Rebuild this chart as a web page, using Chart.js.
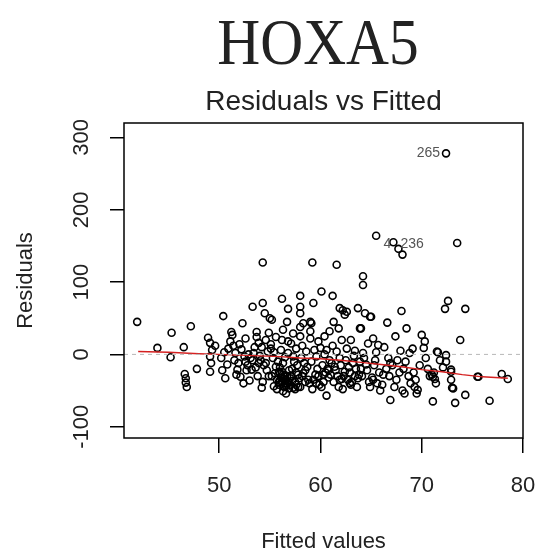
<!DOCTYPE html>
<html>
<head>
<meta charset="utf-8">
<title>HOXA5</title>
<script src="https://cdn.jsdelivr.net/npm/chart.js@4.4.1/dist/chart.umd.min.js"></script>
<style>
  html, body { margin: 0; padding: 0; background: #fff; }
  #wrap { width: 537px; height: 552px; }
</style>
</head>
<body>
<div id="wrap"><canvas id="residPlot" width="537" height="552"></canvas></div>
<script>
'use strict';

// fitted values and residuals, one entry per sample
const fitted = [
  41.9, 43.9,
  45.3, 45.2, 46.5, 46.6, 46.7, 46.7, 46.8, 47.2, 47.8,
  48.9, 49.1, 49.3, 49.1, 49.2, 49.1, 49.6,
  50.4, 50.6, 50.2, 50.5, 50.8, 50.9, 50.3,
  51.2, 51.3, 51.8, 51.5, 51.1, 51.6, 51.9, 51.4, 51.7,
  52.3, 52.1, 52.5, 52.2, 52.8, 52.6, 52.4, 52.9, 52.7, 52.0,
  53.3, 53.2, 53.7, 53.7, 53.5, 53.1, 53.9, 53.4, 53.8, 53.6, 53.0, 53.9,
  54.3, 54.5, 54.2, 54.3, 54.3, 54.6, 54.8, 54.1, 54.7, 54.9, 54.4, 54.2, 54.9,
  55.0, 55.2, 55.3, 55.5, 55.7, 55.1, 55.6, 55.9, 55.4, 55.8, 55.2, 55.6, 55.9,
  56.2, 56.7, 56.3, 56.2, 56.8, 56.8, 56.3, 56.6, 56.0, 56.1, 56.2, 56.4, 56.5,
  56.6, 56.7, 56.9, 56.0, 56.3, 56.5, 56.8, 56.1, 56.4, 56.9, 56.7, 56.2,
  57.3, 57.1, 57.5, 57.8, 57.2, 57.6, 57.4, 57.9, 57.0, 57.7, 57.3, 57.6, 57.1, 57.8, 57.5,
  58.0, 58.0, 58.0, 58.0, 58.3, 58.0, 58.0, 58.2, 58.5, 58.8, 58.4, 58.1, 58.6, 58.9, 58.3, 58.7, 58.2,
  59.3, 59.0, 59.1, 59.0, 59.2, 59.0, 59.8, 59.5, 59.3, 59.7, 59.1, 59.6, 59.9, 59.4, 59.8, 59.2,
  60.1, 60.0, 60.6, 60.4, 60.9, 60.6, 60.2, 60.5, 60.8, 60.3, 60.9, 60.1, 60.7, 60.4,
  61.2, 61.6, 61.3, 61.8, 61.9, 61.1, 61.5, 61.7, 61.3, 61.9, 61.6, 61.2, 61.8, 61.0,
  62.6, 62.4, 62.2, 62.1, 62.5, 62.8, 62.3, 62.7, 62.9, 62.0, 62.6, 62.4, 62.2,
  63.0, 63.7, 63.9, 63.3, 63.5, 63.8, 63.1, 63.6, 63.2, 63.9, 63.4, 63.7,
  64.2, 64.2, 64.4, 64.0, 64.7, 64.9, 64.3, 64.6, 64.1, 64.8, 64.5, 64.9, 64.2,
  65.5, 65.2, 65.7, 65.0, 65.4, 65.8, 65.1, 65.6, 65.3, 65.9, 65.5,
  66.6, 66.9, 66.3, 66.5, 66.8, 66.1, 66.7, 66.2, 66.9,
  67.2, 67.7, 67.4, 67.1, 67.5, 67.8, 67.3, 67.9, 67.6,
  68.1, 68.0, 68.5, 68.3, 68.1, 68.2, 68.7, 68.4, 68.9, 68.8,
  69.3, 69.6, 69.5, 69.2, 69.8, 69.4, 69.1,
  70.0, 70.3, 70.2, 70.6, 70.8, 70.4,
  71.1, 71.0, 71.2, 71.3, 71.1, 71.6, 71.8, 71.5, 71.4,
  72.4, 72.4, 72.9, 72.9, 72.9, 72.6, 72.3, 72.4, 72.1,
  73.1, 73.3, 73.0, 73.8, 73.5, 74.3, 74.3,
  75.5, 75.6, 76.7, 77.9, 78.5,
  55.4, 55.7, 56.0, 56.3, 56.5, 56.8, 57.0, 57.3, 57.6, 56.4, 55.9, 56.6, 57.2, 60.3, 60.8,
  61.4, 62.1, 62.9, 63.4, 64.0, 63.0, 61.9, 52.6, 53.3, 54.0, 54.6, 55.1, 58.5, 59.6, 65.2
];
const resid = [
  45, 9,
  30, -4, 10, -27, -33, -39, -45, 39, -20,
  23, 16, 6, -3, -12, -24, 12,
  53, -33, -5, 3, -14, 8, -22,
  31, 27, -21, -8, 18, 2, -12, 12, -28,
  43, -31, -3, 7, -15, 22, -40, 0, -22, 14,
  66, -21, 31, 24, 10, -5, -12, 2, -30, -18, -36, 16,
  71, 57, -46, -38, 127, 20, 4, -8, -22, -30, -15, 10, 30,
  50, 48, -5, -26, -35, 14, -17, -42, 3, -10, -30, 24, -38,
  77, 45, 34, 20, 18, 63, -51, -54, -26, -32, -38, -44, -29,
  -35, -40, -22, -18, -12, -4, 2, 6, -45, -47, -30, -24,
  29, -30, -38, -45, -20, -25, -10, -33, -42, -15, -3, 8, 15, -28, -48,
  81, 66, 57, 38, 43, 25, -45, -30, -22, -35, -12, -5, 4, -40, -26, -17, 12,
  71, 45, 43, 32, 127, 22, 18, -28, -35, -20, -10, -3, -42, 6, -30, -48,
  87, 9, 6, 25, 32, -57, -15, -25, -32, -38, -8, -45, -20, 0,
  81, 124, 45, 36, 64, -12, -22, -30, -38, -5, 4, 12, -45, -28,
  59, 55, 61, 20, -8, -18, -30, -35, -40, -15, 8, -24, -48,
  20, 64, 36, -2, -20, -28, -38, -45, -12, -10, 5, -33,
  108, 96, 57, 36, 15, 52, -5, -22, -30, -38, -14, -45, 2,
  164, 22, 13, 52, -8, -25, -32, -40, -15, -50, 3,
  44, -63, 10, -20, -30, -42, -5, -28, -12,
  155, 146, 25, -15, -35, -25, -45, 5, -8,
  138, 60, 36, -54, -50, -20, -30, -10, -40, 2,
  -45, -49, -54, -25, -15, -35, 8,
  27, 18, 9, -20, -30, -5,
  -31, -28, -25, -34, -65, 3, -8, 4, -40,
  -1, -10, -21, -24, -35, 74, 63, 278, -18,
  -47, -67, -46, 20, 154, 63, -56,
  -31, -31, -64, -27, -34,
  -44, -48, -36, -28, -40, -38, -33, -46, -42, -34, -24, -44, -37, -28, -22,
  -17, -34, -25, -30, -20, -42, -35, -10, -8, -2, -12, 8, -38, -40, -35
];

// lowess smoother through the residuals
const smoothX = [42, 45, 48, 50, 52, 54, 56, 58, 60, 62, 64, 66, 68, 70, 72, 74, 76, 78.5];
const smoothY = [4, 3, 1, 0, -1, -2, -3, -5, -6, -8, -11, -14, -17, -21, -24, -28, -31, -33];

const xTicks = [50, 60, 70, 80];
const yTicks = [-100, 0, 100, 200, 300];

// row numbers of the three largest residuals
const idNames = ['265', '4', '236'];
const idX = [72.4, 67.2, 68.1];
const idY = [278, 155, 138];

const sansFont = '"Liberation Sans", Arial, Helvetica, sans-serif';
const serifFont = '"Liberation Serif", "Times New Roman", serif';

const points = fitted.map((f, i) => ({ x: f, y: resid[i] }));
const smooth = smoothX.map((f, i) => ({ x: f, y: smoothY[i] }));

// text, box and rotated y labels, R style
const rStyle = {
  id: 'rStyle',
  afterDraw(chart) {
    const ctx = chart.ctx;
    const area = chart.chartArea;
    const xs = chart.scales.x;
    const ys = chart.scales.y;
    const midX = (area.left + area.right) / 2;
    const midY = (area.top + area.bottom) / 2;

    ctx.save();
    ctx.strokeStyle = '#000';
    ctx.lineWidth = 1.5;
    ctx.strokeRect(area.left, area.top, area.right - area.left, area.bottom - area.top);

    ctx.fillStyle = '#222';
    ctx.textAlign = 'center';
    ctx.textBaseline = 'alphabetic';

    // big gene name
    ctx.save();
    ctx.font = '66px ' + serifFont;
    ctx.translate(318, 64);
    ctx.scale(0.9, 1);
    ctx.fillText('HOXA5', 0, 0);
    ctx.restore();

    ctx.font = '28px ' + sansFont;
    ctx.fillText('Residuals vs Fitted', midX, 110);

    ctx.font = '22px ' + sansFont;
    xTicks.forEach(v => {
      ctx.fillText(String(v), xs.getPixelForValue(v), 492);
    });
    ctx.fillText('Fitted values', midX, 548);

    yTicks.forEach(v => {
      ctx.save();
      ctx.translate(88, ys.getPixelForValue(v));
      ctx.rotate(-Math.PI / 2);
      ctx.fillText(String(v), 0, 0);
      ctx.restore();
    });
    ctx.save();
    ctx.translate(32, midY);
    ctx.rotate(-Math.PI / 2);
    ctx.fillText('Residuals', 0, 0);
    ctx.restore();

    // id labels beside the outlying points
    ctx.font = '14px ' + sansFont;
    ctx.fillStyle = '#555';
    ctx.textBaseline = 'middle';
    const offsets = [[-6, 0, 'right'], [-2, 2, 'right'], [-2, -10, 'left']];
    idNames.forEach((name, i) => {
      const px = xs.getPixelForValue(idX[i]);
      const py = ys.getPixelForValue(idY[i]);
      ctx.textAlign = offsets[i][2];
      ctx.fillText(name, px + offsets[i][0], py + offsets[i][1]);
    });
    ctx.restore();
  }
};

const ctx = document.getElementById('residPlot').getContext('2d');

new Chart(ctx, {
  type: 'scatter',
  data: {
    datasets: [
      {
        label: 'zero',
        data: [{ x: 40.6, y: 0 }, { x: 80, y: 0 }],
        showLine: true,
        borderColor: '#b8b8b8',
        borderWidth: 1,
        borderDash: [4, 4],
        pointRadius: 0,
        order: 1
      },
      {
        label: 'lowess',
        data: smooth,
        showLine: true,
        borderColor: '#d42020',
        borderWidth: 1.4,
        pointRadius: 0,
        tension: 0,
        order: 2
      },
      {
        label: 'residuals',
        data: points,
        pointRadius: 3.5,
        pointBorderWidth: 1.6,
        pointBorderColor: '#000',
        pointBackgroundColor: 'rgba(0,0,0,0)',
        order: 3
      }
    ]
  },
  options: {
    responsive: false,
    animation: false,
    devicePixelRatio: 1,
    layout: { padding: { top: 123, right: 14, bottom: 0, left: 0 } },
    plugins: {
      legend: { display: false },
      tooltip: { enabled: false },
      title: { display: false }
    },
    scales: {
      x: {
        type: 'linear',
        min: 40.6,
        max: 80,
        afterBuildTicks: s => { s.ticks = xTicks.map(v => ({ value: v })); },
        afterFit: s => { s.height = 114; },
        ticks: { display: false },
        border: { display: false },
        grid: { drawOnChartArea: false, drawTicks: true, tickLength: 15, color: '#000', lineWidth: 1.5 }
      },
      y: {
        type: 'linear',
        min: -115.6,
        max: 320,
        afterBuildTicks: s => { s.ticks = yTicks.map(v => ({ value: v })); },
        afterFit: s => { s.width = 124; },
        ticks: { display: false },
        border: { display: false },
        grid: { drawOnChartArea: false, drawTicks: true, tickLength: 14, color: '#000', lineWidth: 1.5 }
      }
    }
  },
  plugins: [rStyle]
});
</script>
</body>
</html>
